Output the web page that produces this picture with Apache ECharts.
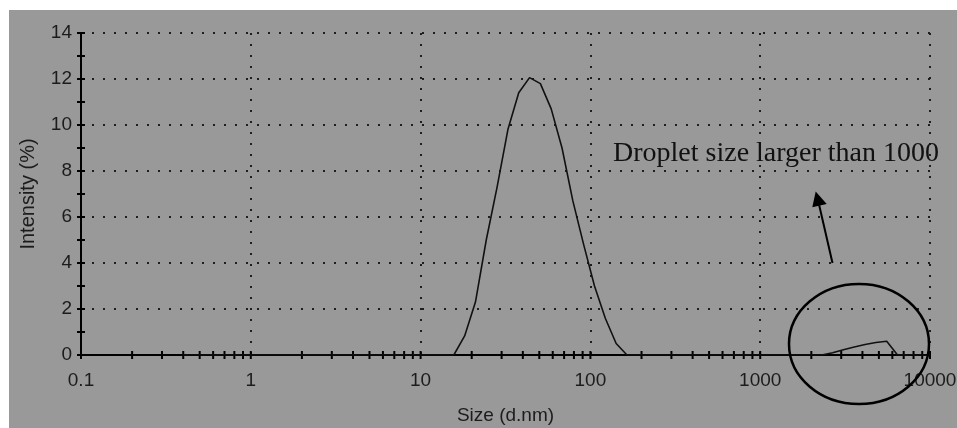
<!DOCTYPE html>
<html><head><meta charset="utf-8">
<script src="https://cdn.jsdelivr.net/npm/echarts@6/dist/echarts.min.js"></script>
<style>html,body{margin:0;padding:0;background:#fff;}#c{width:957px;height:428px;}</style>
</head><body><div id="c"></div>
<script>
// Size bins (d.nm)
const sizes = [0.4,0.4632,0.5365,0.6213,0.7195,0.8332,0.9649,1.117,1.294,1.499,1.736,2.010,2.328,2.696,3.122,3.615,4.187,4.849,5.615,6.503,7.531,8.721,10.10,11.70,13.54,15.69,18.17,21.04,24.36,28.21,32.67,37.84,43.82,50.75,58.77,68.06,78.82,91.28,105.7,122.4,141.8,164.2,190.1,220.2,255.0,295.3,342.0,396.1,458.7,531.2,615.1,712.4,825.0,955.4,1106,1281,1484,1718,1990,2305,2669,3091,3580,4145,4801,5560,6439,7456,8635,10000];
// Intensity (%)
const intensity = [0,0,0,0,0,0,0,0,0,0,0,0,0,0,0,0,0,0,0,0,0,0,0,0,0,0,0.83,2.3,5.0,7.3,9.8,11.4,12.06,11.8,10.7,9.0,6.7,4.8,3.0,1.6,0.5,0,0,0,0,0,0,0,0,0,0,0,0,0,0,0,0,0,0,0,0.1,0.23,0.35,0.46,0.54,0.6,0,0,0,0];
const xTickValues = [0.1,0.2,0.3,0.4,0.5,0.6,0.7,0.8,0.9,1,2,3,4,5,6,7,8,9,10,20,30,40,50,60,70,80,90,100,200,300,400,500,600,700,800,900,1000,2000,3000,4000,5000,6000,7000,8000,9000,10000];
const annotationText = 'Droplet size larger than 1000';

const chart = echarts.init(document.getElementById('c'), null, {renderer:'canvas'});
const gridDot = {color:'#1e1e1e', width:2, type:[2,9]};
const labelFont = {fontFamily:'Liberation Sans, Arial, sans-serif', fontSize:19, color:'#1c1c1c'};
const option = {
  backgroundColor:'#fff',
  animation:false,
  graphic:[
    {type:'rect', z:-10, shape:{x:9,y:10,width:948,height:418}, style:{fill:'#999999'}, silent:true},
    {type:'text', z:100, style:{x:613, y:154, text:annotationText, fontFamily:'Liberation Serif, Times New Roman, serif', fontSize:28, fill:'#111', verticalAlign:'middle'}},
    {type:'line', z:100, shape:{x1:832.5,y1:263,x2:818,y2:200}, style:{stroke:'#000', lineWidth:2}},
    {type:'polygon', z:100, shape:{points:[[815.7,191.5],[812.3,207.3],[826.7,204]]}, style:{fill:'#000'}},
    {type:'ellipse', z:100, shape:{cx:859,cy:344,rx:70,ry:60}, style:{stroke:'#000', fill:null, lineWidth:2.5}}
  ],
  grid:{left:81, right:27, top:33, bottom:73, containLabel:false, outerBoundsMode:'none'},
  xAxis:[{
    type:'log', logBase:10, min:0.1, max:10000,
    name:'Size (d.nm)', nameLocation:'middle', nameGap:51,
    nameTextStyle:labelFont,
    axisLine:{show:true, onZero:false, lineStyle:{color:'#000', width:2}},
    axisTick:{show:false},
    axisLabel:{...labelFont, margin:16, formatter:v=>String(+Number(v).toPrecision(6)), showMinLabel:true, showMaxLabel:true},
    splitLine:{show:true, lineStyle:gridDot},
    minorTick:{show:false}, minorSplitLine:{show:false}
  }],
  yAxis:[{
    type:'value', min:0, max:14, interval:2,
    name:'Intensity (%)', nameLocation:'middle', nameGap:43,
    nameTextStyle:{...labelFont, fontSize:20},
    axisLine:{show:true, lineStyle:{color:'#000', width:2}},
    axisTick:{show:true, inside:false, length:4, lineStyle:{color:'#000', width:2}},
    minorTick:{show:true, splitNumber:2, length:4, lineStyle:{color:'#000', width:2}},
    axisLabel:{...labelFont, margin:9},
    splitLine:{show:true, lineStyle:gridDot}
  },{
    type:'value', min:0, max:14, interval:2, position:'left',
    axisLine:{show:false},
    axisTick:{show:true, inside:true, length:4, lineStyle:{color:'#000', width:2}},
    minorTick:{show:true, splitNumber:2, length:4, lineStyle:{color:'#000', width:2}},
    axisLabel:{show:false}, splitLine:{show:false}
  }],
  series:[{
    type:'custom', xAxisIndex:0, yAxisIndex:0, silent:true, clip:false, z:5,
    data:xTickValues.map(v=>[v,0]),
    renderItem:function(params, api){
      const p = api.coord([api.value(0), 0]);
      return {type:'line', shape:{x1:p[0], y1:p[1]-4, x2:p[0], y2:p[1]+4}, style:{stroke:'#000', lineWidth:2}};
    }
  },{
    type:'line', xAxisIndex:0, yAxisIndex:0, z:10,
    data:sizes.map((s,i)=>[s,intensity[i]]),
    symbol:'none', smooth:false,
    lineStyle:{color:'#111', width:1.6}
  }]
};
chart.setOption(option);
</script></body></html>
